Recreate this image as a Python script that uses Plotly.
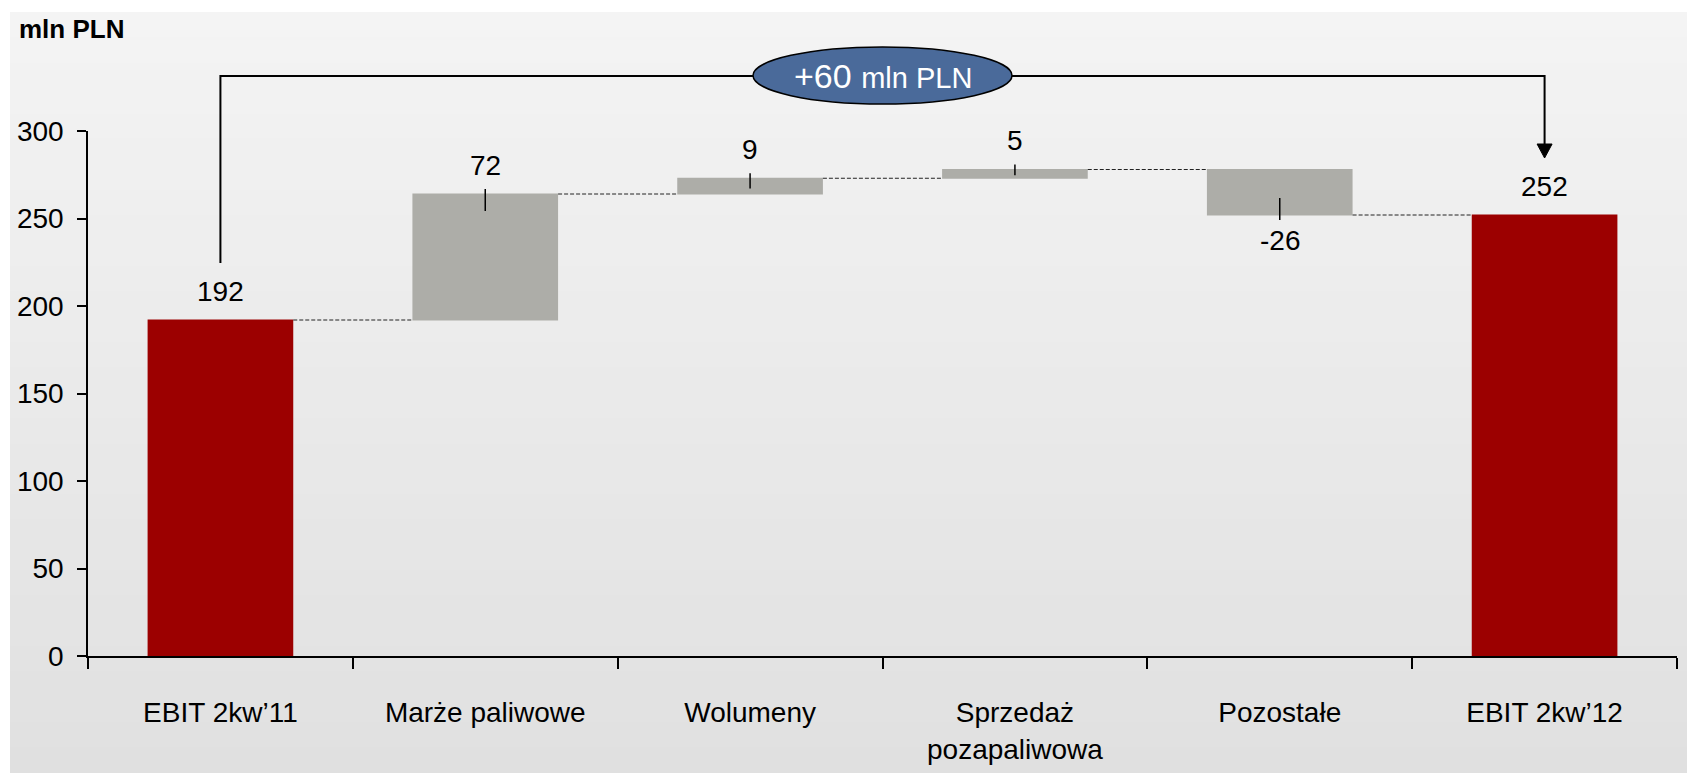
import plotly.graph_objects as go

# ---------------- data ----------------
categories = ["EBIT 2kw’11", "Marże paliwowe", "Wolumeny", "Sprzedaż<br>pozapaliwowa", "Pozostałe", "EBIT 2kw’12"]
values = [192, 72, 9, 5, -26, 252]
measures = ["absolute", "relative", "relative", "relative", "relative", "total"]
value_labels = ["192", "72", "9", "5", "-26", "252"]
y_ticks = [0, 50, 100, 150, 200, 250, 300]
unit_label = "mln PLN"
change_num = "+60"
change_unit = "mln PLN"

# ---------------- style / layout ----------------
W, H = 1695, 773          # window size (screen pixels)
OFF = 8                   # page body margin
ML, MR, MT, MB = 88, 18, 131, 117   # plot area position in screen pixels
PW, PH = W - ML - MR, H - MT - MB
Y_MAX = 300
FONT = "Liberation Sans Narrow, Arial Narrow, Liberation Sans, Arial, sans-serif"
FS = 28
RED = "#9c0000"
GRAY = "#adada8"
BLUE = "#4a6a9a"


def px_to_paper_x(px):
    return (px - ML) / PW


def px_to_paper_y(py):
    return (H - MB - py) / PH


# running totals
starts, ends = [], []
run = 0
for v, m in zip(values, measures):
    if m == "absolute":
        s, e = 0, v
    elif m == "total":
        s, e = 0, run
    else:
        s, e = run, run + v
    run = e
    starts.append(s)
    ends.append(e)

fig = go.Figure()
fig.add_trace(go.Waterfall(
    x=categories, y=values, measure=measures,
    width=0.55,
    increasing=dict(marker=dict(color=GRAY, line=dict(width=0))),
    decreasing=dict(marker=dict(color=GRAY, line=dict(width=0))),
    totals=dict(marker=dict(color=RED, line=dict(width=0))),
    connector=dict(mode="between", line=dict(color="#222222", width=1, dash="4px,2px")),
    textinfo="none", hoverinfo="skip", showlegend=False,
))

shapes = []
annotations = []

# background gradient bands
n_bands = 60
top_px, bot_px, left_px = 12, H, 10
c_top, c_bot = 244, 224
for k in range(n_bands):
    p0 = top_px + (bot_px - top_px) * k / n_bands
    p1 = top_px + (bot_px - top_px) * (k + 1) / n_bands + 1
    c = round(c_top + (c_bot - c_top) * (k + 0.5) / n_bands)
    shapes.append(dict(type="rect", xref="paper", yref="paper",
                       x0=px_to_paper_x(left_px), x1=px_to_paper_x(W + 5),
                       y0=px_to_paper_y(p1), y1=px_to_paper_y(p0),
                       fillcolor=f"rgb({c},{c},{c})", line=dict(width=0), layer="below"))

# value labels and leader lines
off_pos, off_neg = 29, 25
for i, (cat, m, s, e, lab) in enumerate(zip(categories, measures, starts, ends, value_labels)):
    neg = e < s
    edge = min(s, e) if neg else max(s, e)
    annotations.append(dict(x=cat, y=edge, xref="x", yref="y", text=lab, showarrow=False,
                            yshift=-off_neg if neg else off_pos, yanchor="middle",
                            font=dict(family=FONT, size=FS, color="black")))
    if m == "relative":
        hpx = abs(e - s) * PH / Y_MAX
        inside = min(17, 0.65 * hpx)
        outside = 5
        y0, y1 = (-outside, inside) if neg else (-inside, outside)
        shapes.append(dict(type="line", xref="x", yref="y", x0=i, x1=i,
                           ysizemode="pixel", yanchor=edge, y0=y0, y1=y1,
                           line=dict(color="black", width=1.5), layer="above"))

# bracket with arrow
n = len(categories)
xL = (0 + 0.5) / n
xR = (n - 1 + 0.5) / n
y_top = px_to_paper_y(76)
gap = 57 / PH
yL_bot = ends[0] / Y_MAX + gap
yR_tip = ends[-1] / Y_MAX + gap
ah_h = 14 / PH
ah_w = 7.5 / PW
shapes.append(dict(type="path", xref="paper", yref="paper",
                   path=f"M {xL},{yL_bot} L {xL},{y_top} L {xR},{y_top} L {xR},{yR_tip + ah_h}",
                   line=dict(color="black", width=2), layer="above"))
shapes.append(dict(type="path", xref="paper", yref="paper",
                   path=f"M {xR - ah_w},{yR_tip + ah_h} L {xR + ah_w},{yR_tip + ah_h} L {xR},{yR_tip} Z",
                   fillcolor="black", line=dict(color="black", width=1), layer="above"))
# ellipse
ex, ew, eh = (xL + xR) / 2, 129.5 / PW, 28.5 / PH
ey = px_to_paper_y(75.5)
shapes.append(dict(type="circle", xref="paper", yref="paper",
                   x0=ex - ew, x1=ex + ew, y0=ey - eh, y1=ey + eh,
                   fillcolor=BLUE, line=dict(color="black", width=1.5), layer="above"))
annotations.append(dict(x=ex, y=ey, xref="paper", yref="paper", showarrow=False,
                        xanchor="center", yanchor="middle",
                        text=f"<span style='font-size:34px'>{change_num}</span> "
                             f"<span style='font-size:29px'>{change_unit}</span>",
                        font=dict(family=FONT, size=34, color="white")))
# unit label
annotations.append(dict(x=px_to_paper_x(17), y=px_to_paper_y(28.5), xref="paper", yref="paper",
                        showarrow=False, xanchor="left", yanchor="middle",
                        text=f"<b>{unit_label}</b>",
                        font=dict(family=FONT, size=26, color="black")))

fig.update_layout(
    width=W - OFF, height=H - OFF,
    margin=dict(l=ML - OFF, r=MR, t=MT - OFF, b=MB, pad=0, autoexpand=False),
    paper_bgcolor="white", plot_bgcolor="rgba(0,0,0,0)",
    shapes=shapes, annotations=annotations,
    font=dict(family=FONT, size=FS, color="black"),
    showlegend=False,
)
fig.update_xaxes(type="category", range=[-0.5, n - 0.5], tickson="boundaries", automargin=False,
                 ticks="outside", ticklen=11, tickwidth=1.5, tickcolor="black",
                 showline=True, linecolor="black", linewidth=1.5, showgrid=False,
                 tickfont=dict(family=FONT, size=FS, color="black"), ticklabelstandoff=31)
fig.update_yaxes(range=[0, Y_MAX], tickvals=y_ticks, ticks="outside", ticklen=9, automargin=False,
                 tickwidth=1.5, tickcolor="black", showline=True, linecolor="black",
                 linewidth=1.5, showgrid=False, zeroline=False,
                 tickfont=dict(family=FONT, size=FS, color="black"), ticklabelstandoff=8)

fig.write_html("out.html")
